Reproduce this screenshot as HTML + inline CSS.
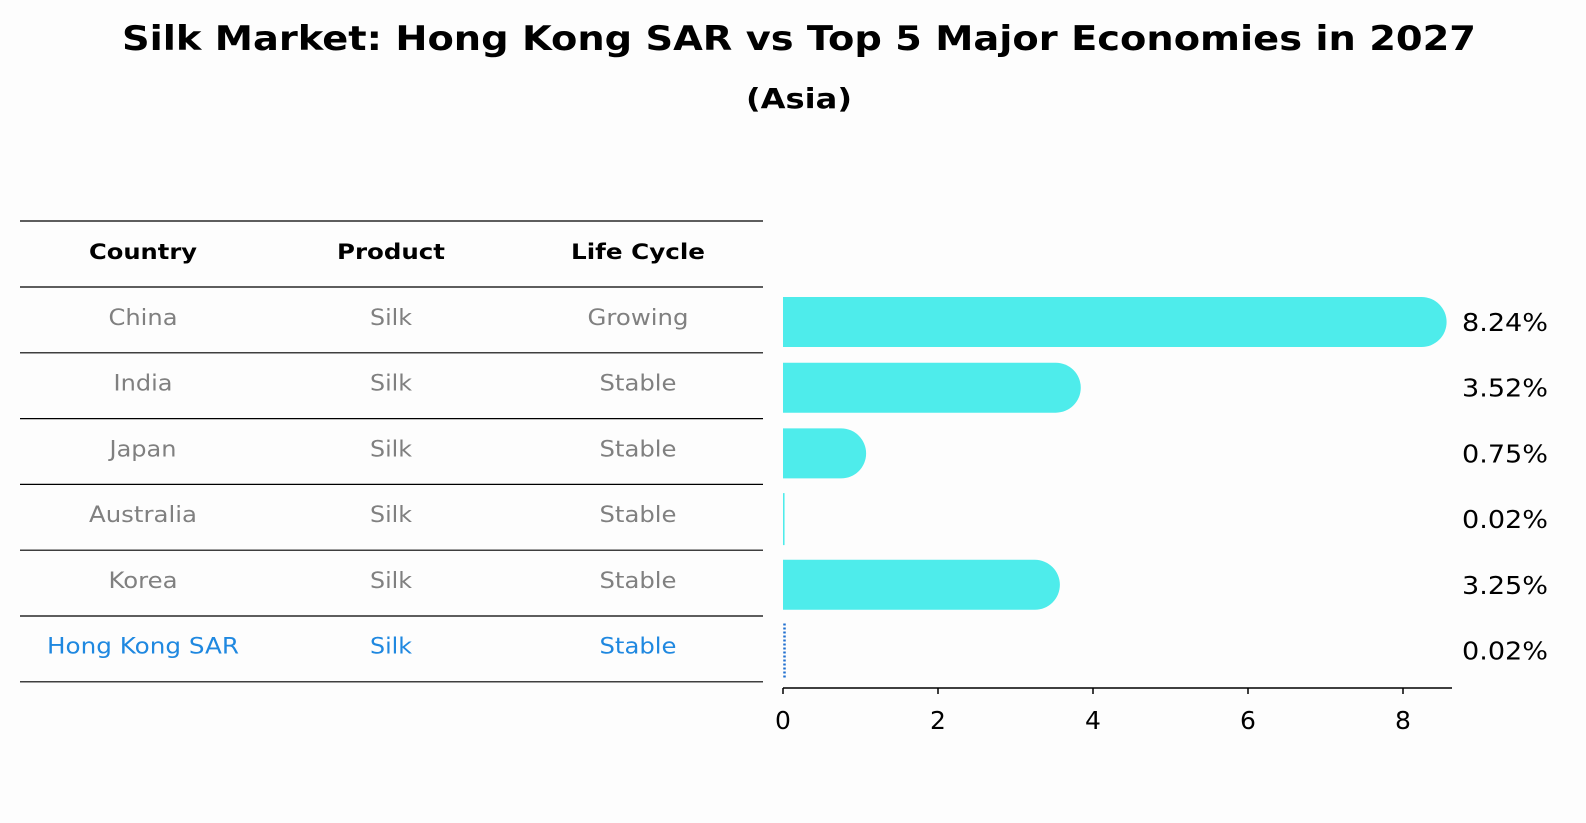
<!DOCTYPE html>
<html><head><meta charset="utf-8"><style>
html,body{margin:0;padding:0;overflow:hidden;width:1586px;height:823px;background:#fdfdfd;font-family:"DejaVu Sans","Liberation Sans",sans-serif;}
svg{display:block}
</style></head><body>
<svg width="1586" height="823" viewBox="0 0 1586 823">
<text x="799" y="50" text-anchor="middle" font-size="34" font-weight="bold" textLength="1354" lengthAdjust="spacingAndGlyphs">Silk Market: Hong Kong SAR vs Top 5 Major Economies in 2027</text>
<text x="799" y="108" text-anchor="middle" font-size="28" font-weight="bold" textLength="106" lengthAdjust="spacingAndGlyphs">(Asia)</text>
<g id="table"></g>
<g id="chart"></g>
</svg>
<script>
const countries=["China","India","Japan","Australia","Korea","Hong Kong SAR"];
const products=["Silk","Silk","Silk","Silk","Silk","Silk"];
const lifeCycles=["Growing","Stable","Stable","Stable","Stable","Stable"];
const values=[8.24,3.52,0.75,0.02,3.25,0.02];
const valueLabels=["8.24%","3.52%","0.75%","0.02%","3.25%","0.02%"];
const xTicks=[0,2,4,6,8];
const NS="http://www.w3.org/2000/svg";
const widths={"China":69,"India":59,"Japan":67,"Australia":108,"Korea":69,"Hong Kong SAR":192,"Silk":42,"Growing":101,"Stable":77,"Country":108,"Product":108,"Life Cycle":134};
function mk(tag,attrs,parent,text){const e=document.createElementNS(NS,tag);for(const k in attrs)e.setAttribute(k,attrs[k]);if(text!==undefined)e.textContent=text;parent.appendChild(e);return e;}
const x=v=>783+v*77.5;
const rowY=i=>322+i*65.7;
const tbl=document.getElementById('table');
const lineYs=[221,287];
for(let i=0;i<countries.length;i++)lineYs.push(287+(i+1)*65.8);
lineYs.forEach(y=>{const l=mk('line',{x1:20,x2:763,y1:y,y2:y,stroke:'#000','stroke-width':1.2},tbl);

});
const colX=[143,391,638];
["Country","Product","Life Cycle"].forEach((h,j)=>{const t=mk('text',{x:colX[j],y:259,'text-anchor':'middle','font-size':21,'font-weight':'bold',textLength:widths[h],lengthAdjust:'spacingAndGlyphs'},tbl,h);

});
countries.forEach((c,i)=>{const y=rowY(i)+3;const hl=i===countries.length-1;const col=hl?'#1f88e0':'#808080';
[c,products[i],lifeCycles[i]].forEach((v,j)=>{const t=mk('text',{x:colX[j],y:y,'text-anchor':'middle','font-size':22,fill:col,textLength:widths[v],lengthAdjust:'spacingAndGlyphs'},tbl,v);

});});
const ch=document.getElementById('chart');
const h=50,r=25;
values.forEach((v,i)=>{const cy=rowY(i);const hl=i===values.length-1;
let el;
if(hl){el=mk('line',{x1:784.5,x2:784.5,y1:cy-27,y2:cy+27,stroke:'#1f6fd0','stroke-width':2.5,'stroke-dasharray':'2 2'},ch);}
else if(v<0.1){el=mk('rect',{x:783,y:cy-26,width:Math.max(1.5,x(v)-783),height:52,fill:'#4eeceb'},ch);}
else{const xe=x(v);el=mk('path',{d:`M783 ${cy-h/2} H${xe} A${r} ${r} 0 0 1 ${xe} ${cy+h/2} H783 Z`,fill:'#4eeceb'},ch);}


const t=mk('text',{x:1462,y:cy+9,'font-size':25,textLength:86,lengthAdjust:'spacingAndGlyphs'},ch,valueLabels[i]);

});
const ax=mk('line',{x1:783,x2:1452,y1:688,y2:688,stroke:'#000','stroke-width':1.5},ch);


xTicks.forEach(v=>{const tk=mk('line',{x1:x(v),x2:x(v),y1:688,y2:694,stroke:'#000','stroke-width':1.5},ch);


const t=mk('text',{x:x(v),y:729,'text-anchor':'middle','font-size':25},ch,String(v));

});
</script>
</body></html>
